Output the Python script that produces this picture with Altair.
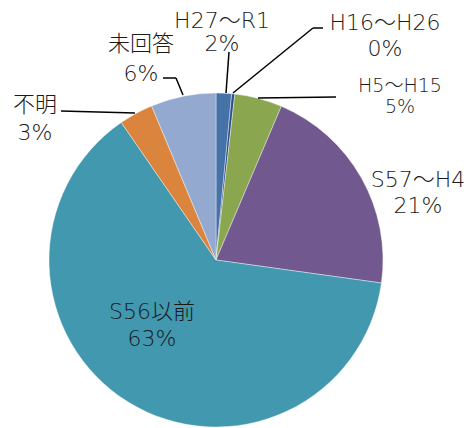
import altair as alt
import pandas as pd

categories = ["H27～R1", "H16～H26", "H5～H15", "S57～H4", "S56以前", "不明", "未回答"]
shares = [1.5, 0.3, 4.6, 20.8, 63.2, 3.3, 6.3]
pct_labels = ["2%", "0%", "5%", "21%", "63%", "3%", "6%"]
colors = ["#4572A7", "#2F4F8F", "#8AA64F", "#71588F", "#4198AF", "#DB843D", "#93A9CF"]

# label layout (chart pixel coordinates)
label_x = [214, 377, 392, 410, 144, 27, 133]
label_y1 = [13, 15, 78, 172, 304, 97, 36]
label_y2 = [36, 41, 99, 198, 331, 125, 66]
label_size = [22, 22, 19, 22, 22, 22, 22]

# leader line segments (chart pixel coordinates)
seg_x = [221, 315, 305, 250, 53, 155, 168]
seg_y = [44, 20, 20, 90, 103, 70, 70]
seg_x2 = [218, 305, 225, 328, 127, 168, 175]
seg_y2 = [85, 20, 85, 89, 105, 70, 87]

order = list(range(len(categories)))

pie_df = pd.DataFrame({"cat": categories, "share": shares, "ord": order})

lab_rows = []
for i in range(len(categories)):
    lab_rows.append({"t": categories[i], "x": label_x[i], "y": label_y1[i], "s": label_size[i]})
    lab_rows.append({"t": pct_labels[i], "x": label_x[i], "y": label_y2[i], "s": label_size[i]})
lab_df = pd.DataFrame(lab_rows)
seg_df = pd.DataFrame({"x": seg_x, "y": seg_y, "x2": seg_x2, "y2": seg_y2})

pie = alt.Chart(pie_df).mark_arc(radius=167, stroke="white", strokeWidth=0.4).encode(
    theta=alt.Theta("share:Q", stack=True),
    order=alt.Order("ord:Q"),
    color=alt.Color("cat:N", scale=alt.Scale(domain=categories, range=colors), legend=None),
    x=alt.value(208),
    y=alt.value(252),
)

lines = alt.Chart(seg_df).mark_rule(color="#000000", strokeWidth=1.5).encode(
    x=alt.X("x:Q", scale=None),
    y=alt.Y("y:Q", scale=None),
    x2="x2:Q",
    y2="y2:Q",
)

FONT = "DejaVu Sans, Noto Sans CJK JP"

texts = alt.Chart(lab_df).mark_text(
    font=FONT, fontWeight=300, color="#1a1a1a", align="center", baseline="middle"
).encode(
    x=alt.X("x:Q", scale=None),
    y=alt.Y("y:Q", scale=None),
    text="t:N",
    size=alt.Size("s:Q", scale=None, legend=None),
)

chart = alt.layer(pie, lines, texts).properties(
    width=457, height=420, autosize="none", padding=0
).configure_view(stroke=None)

chart.save("out.html", embed_options={"renderer": "svg", "actions": False})
